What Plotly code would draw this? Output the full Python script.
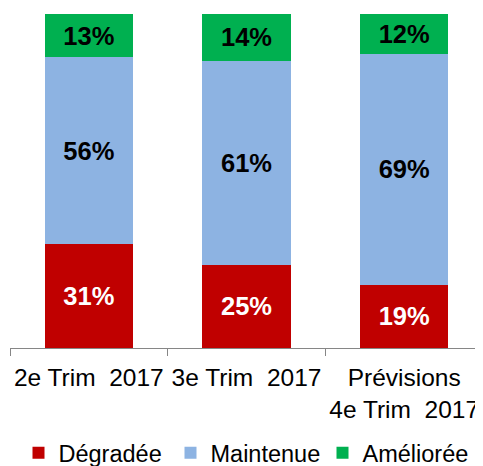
import plotly.graph_objects as go

categories = ["2e Trim  2017", "3e Trim  2017", "Prévisions<br>4e Trim  2017"]
degradee = [31, 25, 19]
maintenue = [56, 61, 69]
amelioree = [13, 14, 12]

series = [
    ("Dégradée", degradee, "#C00000", "white"),
    ("Maintenue", maintenue, "#8DB3E2", "black"),
    ("Améliorée", amelioree, "#00B050", "black"),
]

fig = go.Figure()
for name, vals, color, tcolor in series:
    fig.add_trace(go.Bar(
        name=name, x=categories, y=vals,
        marker=dict(color=color, line=dict(width=0)),
        width=0.56,
        texttemplate="<b>%{y}%</b>",
        textposition="inside",
        insidetextanchor="middle",
        textangle=0,
        textfont=dict(family="Liberation Sans", size=25.5, color=tcolor),
        hoverinfo="skip",
    ))

# page body has an 8px margin, so the figure is sized to fit the window
fig.update_layout(
    barmode="stack",
    width=475, height=458,
    margin=dict(l=2, r=0, t=6, b=118, autoexpand=False),
    paper_bgcolor="white", plot_bgcolor="white",
    font=dict(family="Liberation Sans", size=24, color="black"),
    uniformtext=dict(mode=False),
    showlegend=True,
    legend=dict(orientation="h", x=0.5, xanchor="center", y=-0.314, yanchor="middle",
                font=dict(size=23.5), traceorder="normal", itemwidth=30,
                entrywidth=107, entrywidthmode="pixels"),
    xaxis=dict(range=[-0.5, 2.5], showline=True, linecolor="#868686", linewidth=1,
               ticks="outside", tickson="boundaries", ticklen=7, tickcolor="#868686",
               showgrid=False, tickfont=dict(size=24.5), tickangle=0, automargin=False,
               ticklabelstandoff=8),
    yaxis=dict(range=[0, 100], visible=False, showgrid=False, automargin=False),
)

fig.write_html("out.html")
